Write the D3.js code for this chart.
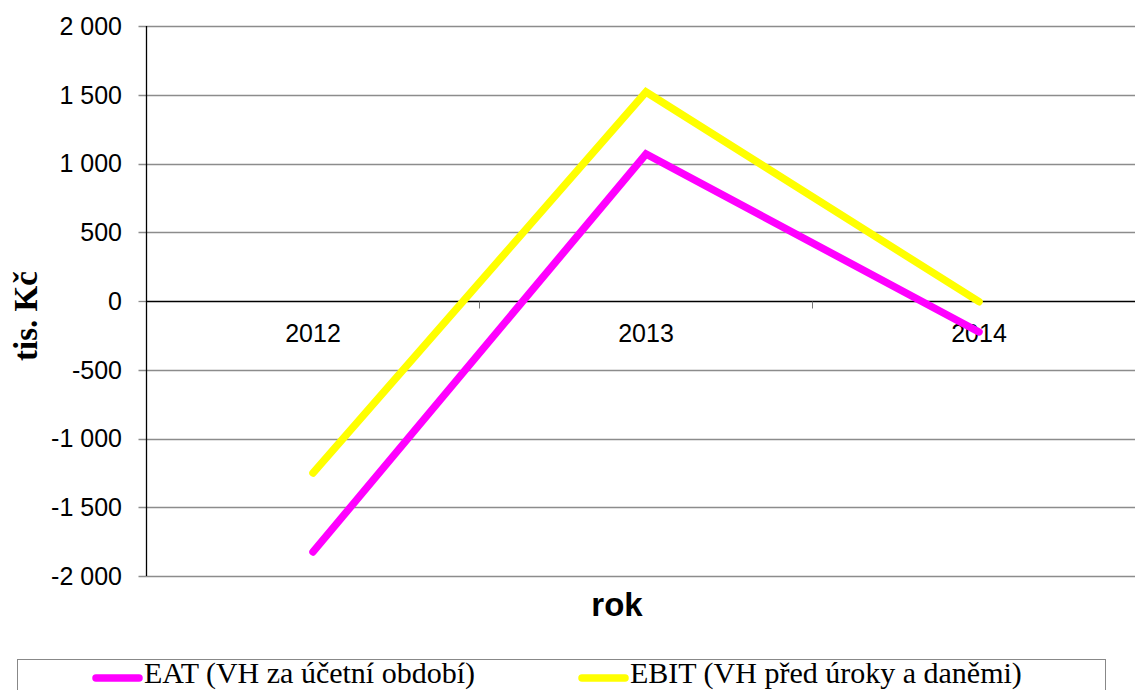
<!DOCTYPE html>
<html>
<head>
<meta charset="utf-8">
<script src="https://cdn.jsdelivr.net/npm/d3@7/dist/d3.min.js"></script>
<style>
  html, body { margin: 0; padding: 0; background: #fff; overflow: hidden; }
  svg { display: block; }
</style>
</head>
<body>
<svg id="chart" width="1135" height="690"></svg>
<script>
// Years on the category axis
const years = ["2012", "2013", "2014"];
// Profit after tax (EAT), tis. Kč
const eatValues = [-1825, 1069, -225];
// Earnings before interest and taxes (EBIT), tis. Kč
const ebitValues = [-1251, 1520, -5];
// Value-axis ticks
const yTicks = [-2000, -1500, -1000, -500, 0, 500, 1000, 1500, 2000];

const seriesNames = ["EAT (VH za účetní období)", "EBIT (VH před úroky a daněmi)"];
const seriesColors = ["#FF00FF", "#FFFF00"];
const series = [eatValues, ebitValues];

const svg = d3.select("#chart");
const plotLeft = 146.5, plotRight = 1145.5, plotTop = 26, plotBottom = 576;
const sans = "'Liberation Sans', Arial, sans-serif";
const serif = "'Liberation Serif', 'Times New Roman', serif";

const x = d3.scaleBand().domain(years).range([plotLeft, plotRight]);
const y = d3.scaleLinear().domain([-2000, 2000]).range([plotBottom, plotTop]);

// Thousands separated by a space
const fmt = v => d3.format(",")(v).replace(/,/g, " ").replace("−", "-");

// Horizontal gridlines with outward tick marks
svg.append("g")
  .selectAll("line")
  .data(yTicks.filter(v => v !== 0))
  .join("line")
  .attr("x1", plotLeft - 8).attr("x2", plotRight)
  .attr("y1", d => Math.round(y(d)) + 0.5).attr("y2", d => Math.round(y(d)) + 0.5)
  .attr("stroke", "#8c8c8c").attr("stroke-width", 1.3);

// Tick mark at zero level
svg.append("line")
  .attr("x1", plotLeft - 8).attr("x2", plotLeft)
  .attr("y1", Math.round(y(0)) + 0.5).attr("y2", Math.round(y(0)) + 0.5)
  .attr("stroke", "#8c8c8c").attr("stroke-width", 1.3);

// Vertical value axis
svg.append("line")
  .attr("x1", plotLeft).attr("x2", plotLeft)
  .attr("y1", plotTop).attr("y2", plotBottom)
  .attr("stroke", "#000").attr("stroke-width", 1.3);

// Value-axis labels
svg.append("g")
  .selectAll("text")
  .data(yTicks)
  .join("text")
  .attr("x", 122).attr("y", d => y(d))
  .attr("dy", "0.35em")
  .attr("text-anchor", "end")
  .attr("font-family", sans)
  .attr("font-size", 25)
  .attr("fill", "#000")
  .text(d => fmt(d));

// Category axis running along zero
const y0 = Math.round(y(0)) + 0.5;
svg.append("line")
  .attr("x1", plotLeft).attr("x2", plotRight)
  .attr("y1", y0).attr("y2", y0)
  .attr("stroke", "#000").attr("stroke-width", 1.3);

// Category boundary ticks
svg.append("g")
  .selectAll("line")
  .data(years.slice(1))
  .join("line")
  .attr("x1", d => x(d)).attr("x2", d => x(d))
  .attr("y1", y0).attr("y2", y0 + 7)
  .attr("stroke", "#777").attr("stroke-width", 1);

// Category labels
svg.append("g")
  .selectAll("text")
  .data(years)
  .join("text")
  .attr("x", d => x(d) + x.bandwidth() / 2)
  .attr("y", 342)
  .attr("text-anchor", "middle")
  .attr("font-family", sans)
  .attr("font-size", 25)
  .attr("fill", "#000")
  .text(d => d);

// Series lines
const line = d3.line()
  .x((d, i) => x(years[i]) + x.bandwidth() / 2)
  .y(d => y(d));

svg.append("g")
  .selectAll("path")
  .data(series)
  .join("path")
  .attr("d", d => line(d))
  .attr("fill", "none")
  .attr("stroke", (d, i) => seriesColors[i])
  .attr("stroke-width", 7.5)
  .attr("stroke-linecap", "round")
  .attr("stroke-linejoin", "miter");

// Axis titles
svg.append("text")
  .attr("transform", "translate(37, 316) rotate(-90)")
  .attr("text-anchor", "middle")
  .attr("font-family", serif)
  .attr("font-weight", "bold")
  .attr("font-size", 33)
  .attr("fill", "#000")
  .text("tis. Kč");

svg.append("text")
  .attr("x", 617).attr("y", 616)
  .attr("text-anchor", "middle")
  .attr("font-family", sans)
  .attr("font-weight", "bold")
  .attr("font-size", 33)
  .attr("fill", "#000")
  .text("rok");

// Legend
const legend = svg.append("g");
legend.append("rect")
  .attr("x", 17.5).attr("y", 659.5)
  .attr("width", 1088).attr("height", 50)
  .attr("fill", "#fff").attr("stroke", "#888").attr("stroke-width", 1);

const legendX = [96, 582];
const items = legend.selectAll("g.item")
  .data(seriesNames)
  .join("g")
  .attr("class", "item")
  .attr("transform", (d, i) => `translate(${legendX[i]}, 678)`);

items.append("line")
  .attr("x1", 0).attr("x2", 43)
  .attr("y1", 0).attr("y2", 0)
  .attr("stroke", (d, i) => seriesColors[i])
  .attr("stroke-width", 7.5)
  .attr("stroke-linecap", "round");

items.append("text")
  .attr("x", 48).attr("y", 5)
  .attr("font-family", serif)
  .attr("font-size", 30)
  .attr("fill", "#000")
  .text(d => d);
</script>
</body>
</html>
